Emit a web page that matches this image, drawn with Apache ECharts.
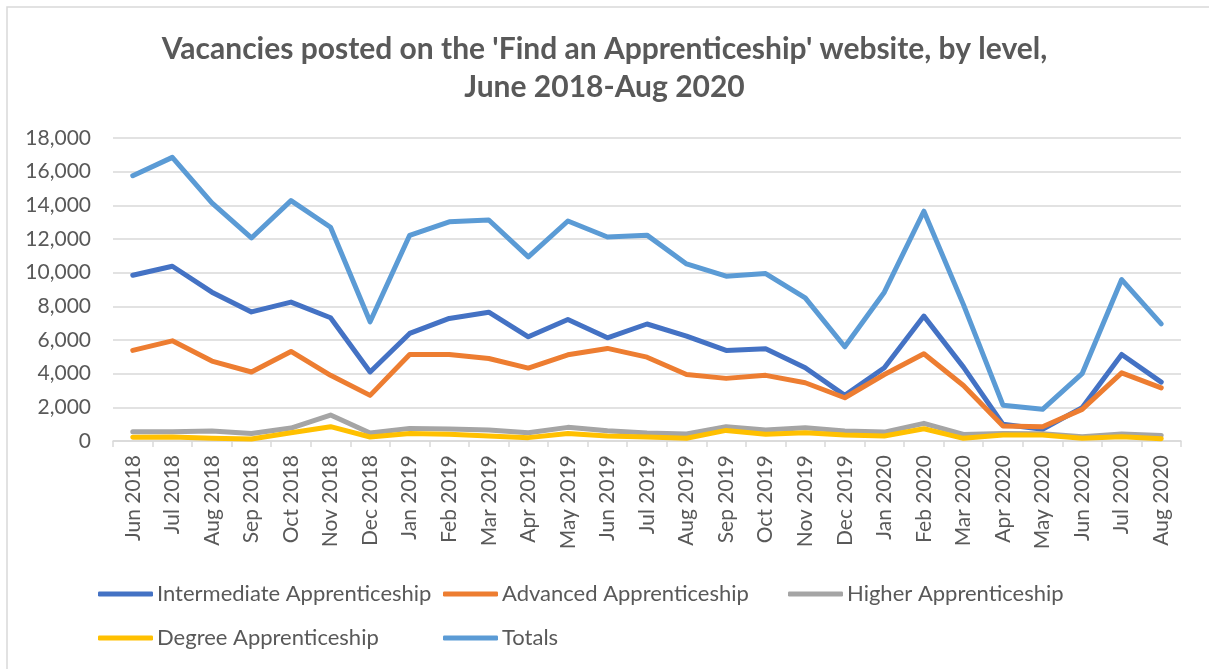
<!DOCTYPE html>
<html>
<head>
<meta charset="utf-8">
<script src="https://cdn.jsdelivr.net/npm/echarts@6/dist/echarts.min.js"></script>
<style>
  html, body { margin: 0; padding: 0; background: #fff; }
  #main { width: 1209px; height: 669px; }
</style>
</head>
<body>
<div id="main"></div>
<script>
var months = ['Jun 2018', 'Jul 2018', 'Aug 2018', 'Sep 2018', 'Oct 2018', 'Nov 2018', 'Dec 2018',
  'Jan 2019', 'Feb 2019', 'Mar 2019', 'Apr 2019', 'May 2019', 'Jun 2019', 'Jul 2019', 'Aug 2019',
  'Sep 2019', 'Oct 2019', 'Nov 2019', 'Dec 2019', 'Jan 2020', 'Feb 2020', 'Mar 2020', 'Apr 2020',
  'May 2020', 'Jun 2020', 'Jul 2020', 'Aug 2020'];

var intermediate = [9850, 10380, 8840, 7670, 8250, 7320, 4100, 6390, 7280, 7650, 6190, 7220, 6130, 6950,
  6230, 5380, 5480, 4350, 2710, 4350, 7420, 4390, 990, 700, 1980, 5140, 3500];
var advanced = [5380, 5950, 4750, 4100, 5320, 3900, 2710, 5140, 5140, 4900, 4330, 5120, 5500, 4980,
  3950, 3720, 3900, 3460, 2570, 3950, 5180, 3300, 890, 850, 1880, 4050, 3160];
var higher = [550, 550, 590, 450, 770, 1540, 470, 750, 710, 650, 490, 810, 610, 470,
  420, 850, 650, 790, 590, 530, 1050, 390, 450, 430, 250, 410, 330];
var degree = [220, 240, 160, 120, 490, 850, 240, 450, 400, 300, 200, 450, 300, 240,
  160, 630, 400, 490, 350, 300, 730, 160, 350, 350, 160, 250, 140];
var totals = [15760, 16850, 14140, 12060, 14280, 12700, 7080, 12220, 13020, 13130, 10940, 13070, 12120, 12230,
  10520, 9790, 9950, 8500, 5600, 8840, 13650, 8100, 2130, 1880, 4000, 9590, 6960];

var yTicks = [0, 2000, 4000, 6000, 8000, 10000, 12000, 14000, 16000, 18000];

var seriesNames = ['Intermediate Apprenticeship', 'Advanced Apprenticeship', 'Higher Apprenticeship',
  'Degree Apprenticeship', 'Totals'];
var seriesData = [intermediate, advanced, higher, degree, totals];
var colors = ['#4472C4', '#ED7D31', '#A5A5A5', '#FFC000', '#5B9BD5'];

var font = 'Lato, "Open Sans", sans-serif';
var chart = echarts.init(document.getElementById('main'));

// legend positions: two rows, three columns
var legendPos = [[98, 583], [443, 583], [788, 583], [98, 627], [443, 627]];

var option = {
  backgroundColor: '#fff',
  color: colors,
  animation: false,
  title: {
    text: "Vacancies posted on the 'Find an Apprenticeship' website, by level,\nJune 2018-Aug 2020",
    left: 'center',
    top: 25,
    textStyle: {
      fontFamily: font,
      fontSize: 30,
      fontWeight: 'bold',
      color: '#595959',
      lineHeight: 38
    }
  },
  legend: seriesNames.map(function (name, i) {
    return {
      data: [name],
      left: legendPos[i][0],
      top: legendPos[i][1],
      padding: 0,
      itemWidth: 55,
      itemHeight: 5,
      itemGap: 0,
      icon: 'roundRect',
      textStyle: { fontFamily: font, fontSize: 22, color: '#595959', padding: [0, 0, 0, -1] }
    };
  }),
  grid: {
    left: 113,
    right: 28,
    top: 138,
    bottom: 228
  },
  xAxis: {
    type: 'category',
    data: months,
    boundaryGap: true,
    axisLine: { lineStyle: { color: '#d9d9d9', width: 1.5 } },
    axisTick: { show: true, length: 6, lineStyle: { color: '#d9d9d9', width: 1.5 } },
    axisLabel: {
      rotate: 90,
      interval: 0,
      margin: 14,
      fontFamily: font,
      fontSize: 21,
      color: '#595959'
    }
  },
  yAxis: {
    type: 'value',
    min: yTicks[0],
    max: yTicks[yTicks.length - 1],
    interval: 2000,
    axisLine: { show: false },
    axisTick: { show: false },
    splitLine: { lineStyle: { color: '#d9d9d9', width: 1.5 } },
    axisLabel: {
      margin: 22,
      fontFamily: font,
      fontSize: 21,
      color: '#595959',
      formatter: function (v) { return v.toLocaleString('en-US'); }
    }
  },
  graphic: [{
    type: 'polyline',
    shape: { points: [[7, 669], [7, 7], [1209, 7]] },
    style: { stroke: '#d9d9d9', lineWidth: 1.5, fill: null }
  }],
  series: seriesNames.map(function (name, i) {
    return {
      name: name,
      type: 'line',
      data: seriesData[i],
      symbol: 'none',
      lineStyle: { width: 5, cap: 'round', join: 'round' }
    };
  })
};

chart.setOption(option);
</script>
</body>
</html>
